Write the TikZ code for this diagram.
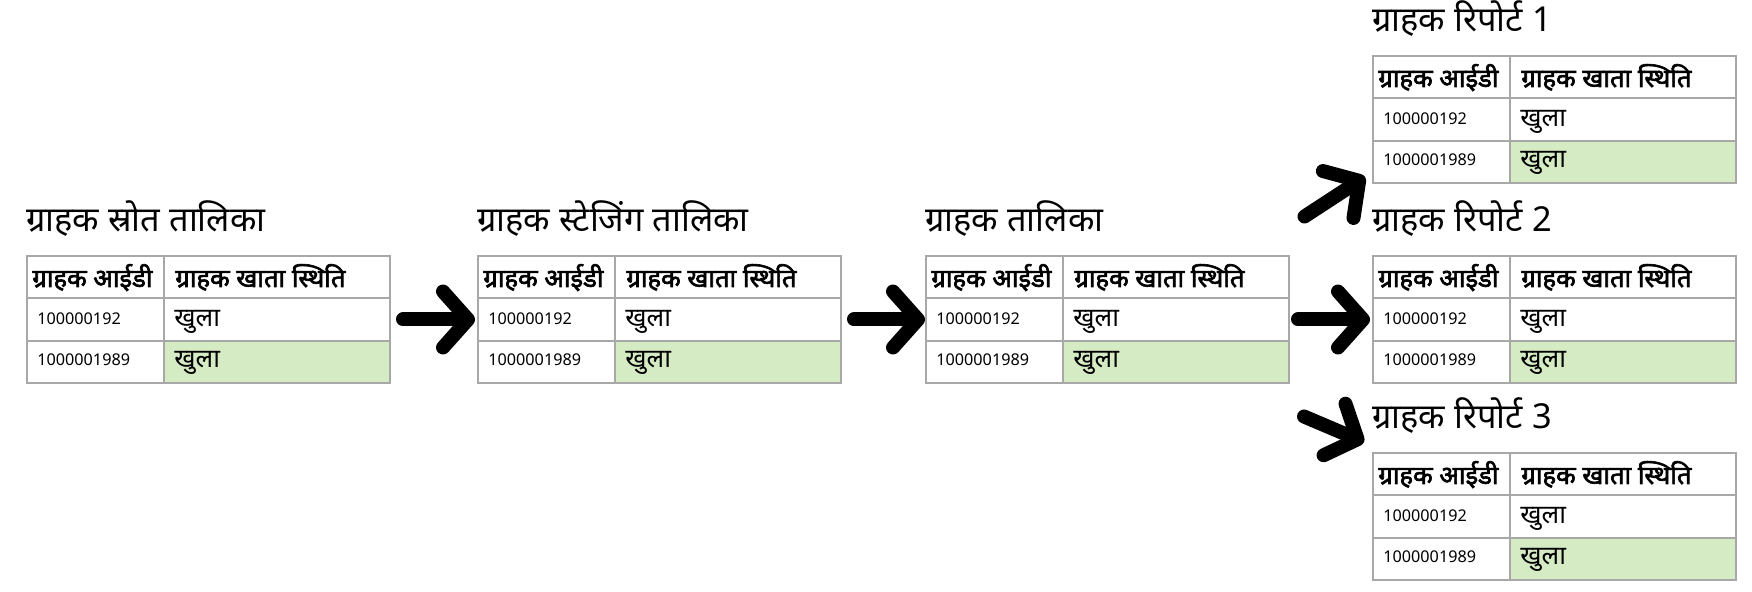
\documentclass[tikz,border=0pt]{standalone}
\usepackage{fontspec}
\newfontfamily\deva[Script=Devanagari]{Noto Sans}
\newfontfamily\devab[Script=Devanagari,FakeBold=2.5]{Noto Sans}
\usetikzlibrary{arrows.meta}
\definecolor{zelena}{HTML}{D5EBC4}
\definecolor{mreza}{HTML}{A8A8A8}

\tikzset{
  naslov/.style={anchor=base west, inner sep=0pt, font=\deva\fontsize{17.2}{20}\selectfont},
  zaglavlje/.style={anchor=base west, inner sep=0pt, font=\devab\fontsize{12.8}{15}\selectfont},
  broj/.style={anchor=base west, inner sep=0pt, font=\deva\fontsize{8.1}{10}\selectfont},
  status/.style={anchor=base west, inner sep=0pt, font=\deva\fontsize{13}{15}\selectfont},
  strela/.style={line width=7pt, line cap=round, -{Straight Barb[round,length=12.5pt,width=28pt]}}
}

% ime, x, y (gornji levi ugao), naslov
\newcommand{\tablica}[4]{%
  \fill[zelena] ({#2+137},{#3+84.6}) rectangle ({#2+363},{#3+127});
  \draw[mreza, line width=1pt] ({#2},{#3}) rectangle ({#2+363},{#3+127});
  \draw[mreza, line width=1pt] ({#2},{#3+42.3}) -- ++(363,0)
      ({#2},{#3+84.6}) -- ++(363,0) ({#2+137},{#3}) -- ++(0,127);
  \node[naslov] (#1) at ({#2-1},{#3-24}) {#4};
  \node[zaglavlje] (#1-z1) at ({#2+5},{#3+31}) {ग्राहक आईडी};
  \node[zaglavlje] (#1-z2) at ({#2+148},{#3+31}) {ग्राहक खाता स्थिति};
  \node[broj] (#1-b1) at ({#2+10},{#3+69}) {100000192};
  \node[status] (#1-s1) at ({#2+147},{#3+71}) {खुला};
  \node[broj] (#1-b2) at ({#2+10},{#3+110}) {1000001989};
  \node[status] (#1-s2) at ({#2+147},{#3+112}) {खुला};
  \coordinate (#1-l) at ({#2},{#3+63.5});
  \coordinate (#1-d) at ({#2+363},{#3+63.5});
  \coordinate (#1-gl) at ({#2},{#3});
  \coordinate (#1-gd) at ({#2+363},{#3});
  \coordinate (#1-dl) at ({#2},{#3+127});
  \coordinate (#1-dd) at ({#2+363},{#3+127});
}

\begin{document}
\begin{tikzpicture}[x=0.5pt, y=-0.5pt]
    \fill[white] (0,0) rectangle (1752,592);
    \useasboundingbox (0,0) rectangle (1752,592);

    \tablica{izvor}{27}{256}{ग्राहक स्रोत तालिका}
    \tablica{stejdz}{478}{256}{ग्राहक स्टेजिंग तालिका}
    \tablica{kupac}{926}{256}{ग्राहक तालिका}
    \tablica{izv1}{1373}{56}{ग्राहक रिपोर्ट 1}
    \tablica{izv2}{1373}{256}{ग्राहक रिपोर्ट 2}
    \tablica{izv3}{1373}{453}{ग्राहक रिपोर्ट 3}

    \draw[strela] ([xshift=6.5pt]izvor-d) -- ([xshift=-1.5pt]stejdz-l);
    \draw[strela] ([xshift=6.5pt]stejdz-d) -- ([xshift=-0.5pt]kupac-l);
    \draw[strela] ([xshift=4.5pt]kupac-d) -- ([xshift=-1.5pt]izv2-l);
    \draw[strela] ([shift={(15.5,-39.5)}]kupac-gd) -- ([shift={(-8,-6)}]izv1-dl);
    \draw[strela] ([shift={(15,33.5)}]kupac-dd) -- ([shift={(-9,-11)}]izv3-gl);
\end{tikzpicture}
\end{document}
